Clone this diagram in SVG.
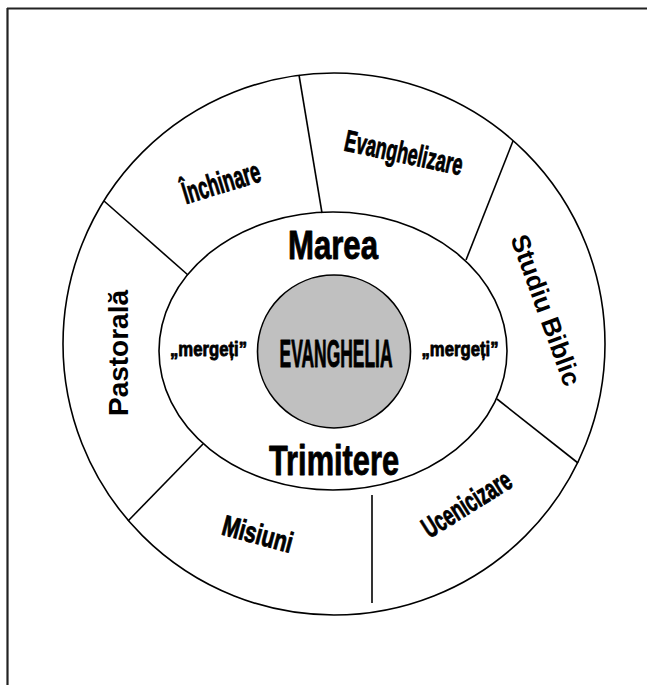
<svg xmlns="http://www.w3.org/2000/svg" width="647" height="685" viewBox="0 0 647 685">
<style>
.ln{fill:none;stroke:#000;stroke-width:1.6}
.t{font-family:"Liberation Sans",Arial,sans-serif;font-weight:bold;fill:#000;text-anchor:middle}
.h{stroke:#000;stroke-width:0.9;stroke-linejoin:round}
</style>
<rect width="647" height="685" fill="#fff"/>
<g id="frame">
<line x1="7" y1="8.5" x2="647" y2="8.5" stroke="#222" stroke-width="2.2"/>
<line x1="7.5" y1="8" x2="7.5" y2="685" stroke="#222" stroke-width="2.2"/>
</g>
<g id="outer-ring">
<circle class="ln" cx="334" cy="344" r="271" stroke-width="1.8"/>
</g>
<g id="inner-ellipse">
<ellipse class="ln" cx="333" cy="351" rx="174" ry="139"/>
<text class="t h" x="333" y="259" font-size="41" textLength="90" lengthAdjust="spacingAndGlyphs">Marea</text>
<text class="t h" x="334" y="475" font-size="43" textLength="130" lengthAdjust="spacingAndGlyphs">Trimitere</text>
<text class="t h" x="208.5" y="356" font-size="21" textLength="77" lengthAdjust="spacingAndGlyphs" stroke-width="0.5">„mergeți”</text>
<text class="t h" x="460" y="356" font-size="21" textLength="77" lengthAdjust="spacingAndGlyphs" stroke-width="0.5">„mergeți”</text>
</g>
<g id="evanghelia">
<circle cx="334" cy="351.5" r="76.5" fill="#c0c0c0" stroke="#000" stroke-width="1.6"/>
<text class="t h" x="336" y="367" font-size="38" textLength="113" lengthAdjust="spacingAndGlyphs">EVANGHELIA</text>
</g>
<g id="connectors">
<line class="ln" x1="322" y1="213" x2="299" y2="75"/>
<line class="ln" x1="466" y1="260" x2="513" y2="141"/>
<line class="ln" x1="188" y1="275" x2="104" y2="201"/>
<line class="ln" x1="497" y1="399" x2="578" y2="463"/>
<line class="ln" x1="203" y1="444" x2="128" y2="521"/>
<line class="ln" x1="372" y1="495" x2="372" y2="603"/>
</g>
<g id="inchinare"><text class="t h" transform="translate(221,182) rotate(-17)" y="11" font-size="31" textLength="80" lengthAdjust="spacingAndGlyphs" stroke-width="0.6">Închinare</text></g>
<g id="evanghelizare"><text class="t h" transform="translate(404,152) rotate(12)" y="11" font-size="30" textLength="120" lengthAdjust="spacingAndGlyphs" stroke-width="0.6">Evanghelizare</text></g>
<g id="studiu-biblic"><text class="t" transform="translate(546,310) rotate(70)" y="9" font-size="26">Studiu Biblic</text></g>
<g id="ucenicizare"><text class="t h" transform="translate(466,503) rotate(-32)" y="11" font-size="29" textLength="100" lengthAdjust="spacingAndGlyphs" stroke-width="0.6">Ucenicizare</text></g>
<g id="misiuni"><text class="t h" transform="translate(258,533) rotate(15)" y="11" font-size="29" textLength="72" lengthAdjust="spacingAndGlyphs" stroke-width="0.6">Misiuni</text></g>
<g id="pastorala"><text class="t" transform="translate(118,353) rotate(-90)" y="10" font-size="28">Pastorală</text></g>
</svg>
